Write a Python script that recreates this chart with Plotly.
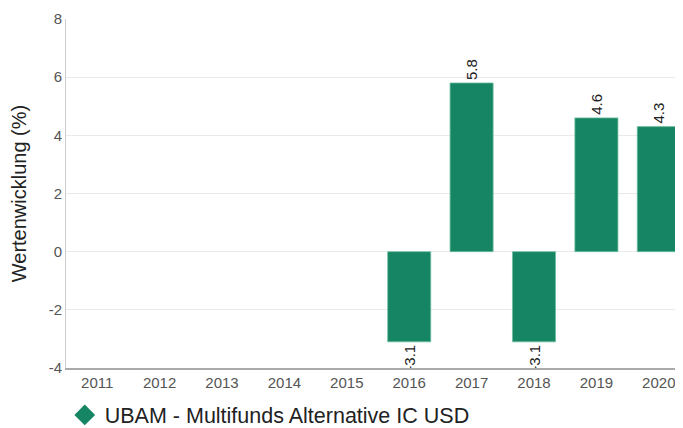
import plotly.graph_objects as go

years = ["2011", "2012", "2013", "2014", "2015", "2016", "2017", "2018", "2019", "2020"]
values = [None, None, None, None, None, -3.1, 5.8, -3.1, 4.6, 4.3]
labels = ["" if v is None else f"{v:.1f}" for v in values]
y_ticks = [-4, -2, 0, 2, 4, 6, 8]
y_tick_text = [str(t) for t in y_ticks]
series_name = "UBAM - Multifunds Alternative IC USD"
color = "#168563"

fig = go.Figure()
fig.add_trace(go.Bar(
    x=years, y=values, text=labels, textposition="outside", textangle=-90,
    textfont=dict(size=15, color="#222", family="Liberation Sans, Arial"),
    marker=dict(color=color, line=dict(color="#6fbf9f", width=0.8)),
    width=0.69, showlegend=False, cliponaxis=False,
))
fig.add_trace(go.Scatter(
    x=[None], y=[None], mode="markers", name=series_name,
    marker=dict(symbol="diamond", size=24, color=color),
    showlegend=True,
))

fig.update_layout(
    width=682, height=420,
    margin=dict(l=58, r=0, t=11, b=60, autoexpand=False),
    plot_bgcolor="white", paper_bgcolor="white",
    font=dict(family="Liberation Sans, Arial", color="#444"),
    legend=dict(orientation="h", x=-0.002, xref="paper", y=0.031, yref="container",
                yanchor="middle",
                font=dict(size=21.5, color="#222"), itemsizing="trace"),
    xaxis=dict(type="category", showline=True, linecolor="#aaa", linewidth=1.5,
               ticks="", tickfont=dict(size=15, color="#555"), showgrid=False),
    yaxis=dict(range=[-4, 8], tickvals=y_ticks, ticktext=y_tick_text,
               showline=True, linecolor="#ccc", linewidth=1,
               gridcolor="#eaeaea", zeroline=False, ticks="",
               tickfont=dict(size=15, color="#555"),
               title=dict(text="Wertenwicklung (%)", font=dict(size=20, color="#222"), standoff=16)),
    bargap=0.3,
)

fig.write_html("out.html")
